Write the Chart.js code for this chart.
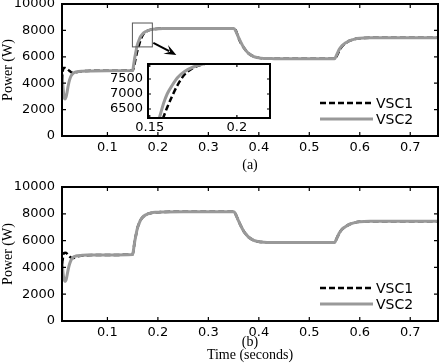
<!DOCTYPE html>
<html>
<head>
<meta charset="utf-8">
<script src="https://cdn.jsdelivr.net/npm/chart.js@4.4.1/dist/chart.umd.min.js"></script>
<style>
  html, body { margin: 0; padding: 0; background: #fff; }
  #wrap { position: relative; width: 441px; height: 363px; background: #fff; overflow: hidden; }
  .box { position: absolute; }
</style>
</head>
<body>
<div id="wrap">
  <div class="box" style="left:0;top:0;width:441px;height:181px"><canvas id="chartA"></canvas></div>
  <div class="box" style="left:0;top:181px;width:441px;height:182px"><canvas id="chartB"></canvas></div>
  <div class="box" style="left:90px;top:55px;width:190px;height:85px"><canvas id="chartInset"></canvas></div>
</div>
<script>
// time axis (seconds), shared by every series
const time = [0.01, 0.011, 0.012, 0.013, 0.014, 0.016, 0.018, 0.02, 0.022, 0.025, 0.028, 0.032, 0.036, 0.04, 0.05, 0.06, 0.1,
    0.15, 0.152, 0.154, 0.156, 0.158, 0.16, 0.163, 0.166, 0.17, 0.175, 0.18, 0.186, 0.195, 0.21, 0.25, 0.3, 0.35,
    0.353, 0.356, 0.36, 0.365, 0.37, 0.375, 0.38, 0.39, 0.4, 0.41, 0.43, 0.46, 0.5, 0.55,
    0.553, 0.556, 0.56, 0.565, 0.57, 0.575, 0.58, 0.59, 0.6, 0.62, 0.65, 0.7, 0.755];

// panel (a)
const vsc1A = [3500, 4600, 5050, 5150, 5150, 5150, 5120, 5080, 5020, 4930, 4830, 4780, 4800, 4840, 4900, 4930, 4950,
    4960, 5150, 5500, 5900, 6250, 6550, 6950, 7300, 7650, 7870, 7980, 8060, 8110, 8140, 8150, 8150, 8150,
    8100, 7850, 7400, 7000, 6700, 6450, 6250, 6020, 5920, 5880, 5860, 5850, 5850, 5850,
    5950, 6200, 6500, 6800, 6980, 7110, 7220, 7340, 7400, 7440, 7450, 7450, 7450];
const vsc2A = [4700, 4200, 3700, 3300, 3000, 2800, 2950, 3300, 3750, 4250, 4550, 4750, 4830, 4870, 4910, 4930, 4950,
    4960, 5400, 5900, 6300, 6700, 7000, 7300, 7550, 7750, 7900, 7990, 8060, 8110, 8140, 8150, 8150, 8150,
    8050, 7800, 7450, 7050, 6700, 6450, 6250, 6020, 5920, 5880, 5860, 5850, 5850, 5850,
    6050, 6300, 6600, 6850, 7000, 7120, 7220, 7340, 7400, 7440, 7450, 7450, 7450];

// panel (b)
const vsc1B = [3600, 4300, 4800, 5000, 5080, 5100, 5080, 5020, 4920, 4800, 4720, 4700, 4750, 4820, 4880, 4910, 4930,
    4960, 5400, 5900, 6300, 6700, 7000, 7300, 7550, 7750, 7900, 7990, 8060, 8110, 8140, 8150, 8150, 8150,
    8050, 7800, 7450, 7050, 6700, 6450, 6250, 6020, 5920, 5880, 5860, 5850, 5850, 5850,
    6050, 6300, 6600, 6850, 7000, 7120, 7220, 7340, 7400, 7440, 7450, 7450, 7450];
const vsc2B = [4500, 4000, 3600, 3300, 3100, 2950, 3050, 3400, 3800, 4250, 4550, 4750, 4830, 4870, 4900, 4920, 4930,
    4960, 5400, 5900, 6300, 6700, 7000, 7300, 7550, 7750, 7900, 7990, 8060, 8110, 8140, 8150, 8150, 8150,
    8050, 7800, 7450, 7050, 6700, 6450, 6250, 6020, 5920, 5880, 5860, 5850, 5850, 5850,
    6050, 6300, 6600, 6850, 7000, 7120, 7220, 7340, 7400, 7440, 7450, 7450, 7450];

const seriesNames = ["VSC1", "VSC2"];
const xTicks = [0.1, 0.2, 0.3, 0.4, 0.5, 0.6, 0.7];
const yTicks = [0, 2000, 4000, 6000, 8000, 10000];
const insetXTicks = [0.15, 0.2];
const insetYTicks = [6500, 7000, 7500];

Chart.defaults.font.family = '"DejaVu Sans", sans-serif';
Chart.defaults.font.size = 13;
Chart.defaults.color = '#000';
Chart.defaults.animation = false;

const SERIF = '"Liberation Serif", "Times New Roman", serif';
const GRAY = '#999999';

function toPoints(values) {
    return time.map((t, i) => ({x: t, y: values[i]}));
}

function makeDatasets(v1, v2) {
    return [{
        label: seriesNames[0],
        data: toPoints(v1),
        borderColor: '#000',
        borderWidth: 2.5,
        borderDash: [6, 3],
        pointRadius: 0,
        cubicInterpolationMode: 'monotone',
        order: 1
    }, {
        label: seriesNames[1],
        data: toPoints(v2),
        borderColor: GRAY,
        borderWidth: 3,
        pointRadius: 0,
        cubicInterpolationMode: 'monotone',
        order: 0
    }];
}

// matlab-like box with inward ticks on all four sides
const boxFrame = {
    id: 'boxFrame',
    beforeDatasetsDraw(chart, args, opts) {
        if (!opts.fill) return;
        const a = chart.chartArea;
        chart.ctx.save();
        chart.ctx.fillStyle = '#fff';
        chart.ctx.fillRect(a.left, a.top, a.right - a.left, a.bottom - a.top);
        chart.ctx.restore();
    },
    afterDatasetsDraw(chart, args, opts) {
        const {ctx, chartArea: a, scales: {x, y}} = chart;
        const len = opts.tick || 4;
        ctx.save();
        ctx.strokeStyle = '#000';
        ctx.lineWidth = 1.2;
        ctx.beginPath();
        x.ticks.forEach(t => {
            const px = x.getPixelForValue(t.value);
            ctx.moveTo(px, a.bottom); ctx.lineTo(px, a.bottom - len);
            ctx.moveTo(px, a.top); ctx.lineTo(px, a.top + len);
        });
        y.ticks.forEach(t => {
            const py = y.getPixelForValue(t.value);
            ctx.moveTo(a.left, py); ctx.lineTo(a.left + len, py);
            ctx.moveTo(a.right, py); ctx.lineTo(a.right - len, py);
        });
        ctx.stroke();
        ctx.lineWidth = opts.width || 2;
        ctx.strokeRect(a.left, a.top, a.right - a.left, a.bottom - a.top);
        ctx.restore();
    }
};

// legend drawn inside the lower right corner of the axes
const boxLegend = {
    id: 'boxLegend',
    afterDraw(chart, args, opts) {
        if (!opts.show) return;
        const {ctx, chartArea: a} = chart;
        ctx.save();
        ctx.font = '14px "DejaVu Sans"';
        ctx.textBaseline = 'middle';
        ctx.fillStyle = '#000';
        chart.data.datasets.forEach((ds, i) => {
            const yy = a.bottom - opts.bottom + i * 16;
            ctx.strokeStyle = ds.borderColor;
            ctx.lineWidth = ds.borderWidth;
            ctx.setLineDash(ds.borderDash || []);
            ctx.beginPath();
            ctx.moveTo(a.right - 118, yy);
            ctx.lineTo(a.right - 65, yy);
            ctx.stroke();
            ctx.setLineDash([]);
            ctx.fillText(ds.label, a.right - 62, yy + 1);
        });
        ctx.restore();
    }
};

// small rectangle around the zoomed region plus the arrow towards the inset
const zoomMark = {
    id: 'zoomMark',
    afterDraw(chart, args, opts) {
        if (!opts.show) return;
        const {ctx, scales: {x, y}} = chart;
        const x0 = x.getPixelForValue(opts.x0), x1 = x.getPixelForValue(opts.x1);
        const y0 = y.getPixelForValue(opts.y0), y1 = y.getPixelForValue(opts.y1);
        ctx.save();
        ctx.strokeStyle = '#555';
        ctx.lineWidth = 1;
        ctx.strokeRect(x0, y1, x1 - x0, y0 - y1);
        const sx = x1 + 1, sy = y0 - 4, ex = sx + 23, ey = sy + 12;
        const ang = Math.atan2(ey - sy, ex - sx);
        ctx.strokeStyle = '#000';
        ctx.lineWidth = 2;
        ctx.beginPath();
        ctx.moveTo(sx, sy);
        ctx.lineTo(ex - 8 * Math.cos(ang), ey - 8 * Math.sin(ang));
        ctx.stroke();
        ctx.fillStyle = '#000';
        ctx.beginPath();
        ctx.moveTo(ex, ey);
        ctx.lineTo(ex - 12 * Math.cos(ang) + 5 * Math.sin(ang), ey - 12 * Math.sin(ang) - 5 * Math.cos(ang));
        ctx.lineTo(ex - 7 * Math.cos(ang), ey - 7 * Math.sin(ang));
        ctx.lineTo(ex - 12 * Math.cos(ang) - 5 * Math.sin(ang), ey - 12 * Math.sin(ang) + 5 * Math.cos(ang));
        ctx.closePath();
        ctx.fill();
        ctx.restore();
    }
};

function fmt(v) {
    return String(v);
}

function generatePanel(canvasId, v1, v2, caption, topPad, axisHeight, captionPad, zoom) {
    return new Chart(document.getElementById(canvasId).getContext('2d'), {
        type: 'line',
        data: {datasets: makeDatasets(v1, v2)},
        plugins: [boxFrame, boxLegend, zoomMark],
        options: {
            responsive: true,
            maintainAspectRatio: false,
            layout: {padding: {left: 0, right: 3, top: topPad, bottom: 0}},
            plugins: {
                legend: {display: false},
                tooltip: {enabled: false},
                boxFrame: {width: 2, tick: 4},
                boxLegend: {show: true, bottom: 33},
                zoomMark: zoom
            },
            scales: {
                x: {
                    type: 'linear',
                    min: 0.01,
                    max: 0.755,
                    grid: {display: false, drawTicks: false},
                    border: {display: false},
                    afterBuildTicks: s => { s.ticks = xTicks.map(v => ({value: v})); },
                    afterFit: s => { s.height = axisHeight; s.paddingLeft = 0; s.paddingRight = 0; },
                    ticks: {padding: 4, maxRotation: 0, autoSkip: false, callback: fmt},
                    title: {
                        display: true,
                        text: caption,
                        font: {family: SERIF, size: 14, lineHeight: 0.95},
                        padding: {top: 0, bottom: captionPad}
                    }
                },
                y: {
                    min: 0,
                    max: 10000,
                    grid: {display: false, drawTicks: false},
                    border: {display: false},
                    afterBuildTicks: s => { s.ticks = yTicks.map(v => ({value: v})); },
                    afterFit: s => { s.width = 62; s.paddingTop = 0; s.paddingBottom = 0; },
                    ticks: {padding: 7, autoSkip: false, callback: fmt},
                    title: {
                        display: true,
                        text: 'Power (W)',
                        font: {family: SERIF, size: 14},
                        padding: {top: 0, bottom: 0}
                    }
                }
            }
        }
    });
}

generatePanel('chartA', vsc1A, vsc2A, '(a)', 4, 45, 9,
    {show: true, x0: 0.1495, x1: 0.189, y0: 6750, y1: 8560});
generatePanel('chartB', vsc1B, vsc2B, ['(b)', 'Time (seconds)'], 6, 42, 1, {show: false});

// inset: zoom of panel (a) around the 0.15 s step
new Chart(document.getElementById('chartInset').getContext('2d'), {
    type: 'line',
    data: {datasets: makeDatasets(vsc1A, vsc2A)},
    plugins: [boxFrame],
    options: {
        responsive: true,
        maintainAspectRatio: false,
        layout: {padding: {left: 0, right: 10, top: 9, bottom: 0}},
        plugins: {
            legend: {display: false},
            tooltip: {enabled: false},
            boxFrame: {width: 2, tick: 3, fill: true}
        },
        scales: {
            x: {
                type: 'linear',
                min: 0.149,
                max: 0.219,
                grid: {display: false, drawTicks: false},
                border: {display: false},
                afterBuildTicks: s => { s.ticks = insetXTicks.map(v => ({value: v})); },
                afterFit: s => { s.height = 22; s.paddingLeft = 0; s.paddingRight = 0; },
                ticks: {padding: 2, maxRotation: 0, autoSkip: false, callback: fmt}
            },
            y: {
                min: 6200,
                max: 8000,
                grid: {display: false, drawTicks: false},
                border: {display: false},
                afterBuildTicks: s => { s.ticks = insetYTicks.map(v => ({value: v})); },
                afterFit: s => { s.width = 58; s.paddingTop = 0; s.paddingBottom = 0; },
                ticks: {padding: 5, autoSkip: false, callback: fmt}
            }
        }
    }
});
</script>
</body>
</html>
